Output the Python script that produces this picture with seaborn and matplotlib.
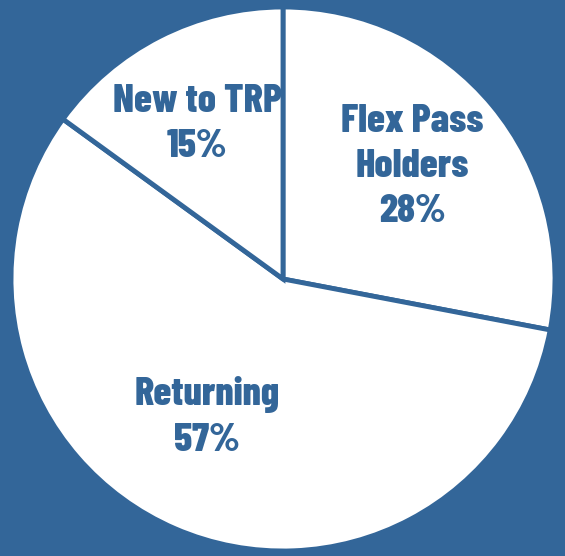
import matplotlib
matplotlib.use("Agg")
import matplotlib.pyplot as plt
import numpy as np
import seaborn as sns

# data
labels = ["Flex Pass\nHolders", "Returning", "New to TRP"]
shares = [28, 57, 15]

blue = "#336699"

sns.set_theme(style="white")
plt.rcParams['font.family'] = ['Barlow Condensed', 'DejaVu Sans']

fig = plt.figure(figsize=(5.65, 5.56), dpi=100, facecolor=blue)
ax = fig.add_axes([0, 0, 1, 1])
ax.set_facecolor(blue)

def fmt(pct):
    # find the label matching this percentage
    for lab, s in zip(labels, shares):
        if abs(s - pct) < 0.5:
            return "%s\n%d%%" % (lab, s)
    return ""

wedges, texts, autotexts = ax.pie(
    shares, startangle=90, counterclock=False,
    colors=["white"] * 3, autopct=fmt, pctdistance=0.62,
    wedgeprops=dict(edgecolor=blue, linewidth=3.5),
    textprops=dict(color=blue, fontsize=29, fontweight=800,
                   linespacing=1.35))

# nudge labels a bit to sit where the original has them
dist = [0.63, 0.58, 0.65]
shift = [1.5, -5.5, 2.0]
for w, t, r, d in zip(wedges, autotexts, dist, shift):
    ang = np.deg2rad((w.theta1 + w.theta2) / 2 + d)
    t.set_position((r * np.cos(ang), r * np.sin(ang)))
    t.set_ha("center")
    t.set_va("center")

ax.set_xlim(-283 / 272, 282 / 272)
ax.set_ylim(-277 / 272, 279 / 272)
ax.set_aspect("auto")
ax.axis("off")

fig.savefig("out.png", dpi=100, facecolor=blue)
